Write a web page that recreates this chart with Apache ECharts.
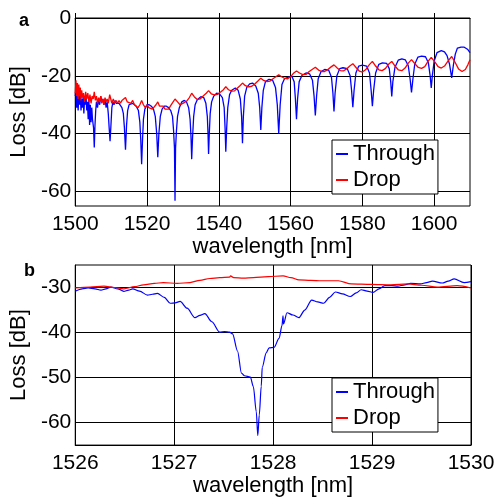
<!DOCTYPE html>
<html>
<head>
<meta charset="utf-8">
<script src="https://cdn.jsdelivr.net/npm/echarts@6/dist/echarts.min.js"></script>
<style>
html,body{margin:0;padding:0;background:#fff;}
#chart{width:499px;height:498px;}
</style>
</head>
<body>
<div id="chart"></div>
<script>
// ---- data (wavelength nm, loss dB) ----
const seriesNames = ['Through', 'Drop'];
const xTicksA = [1500, 1520, 1540, 1560, 1580, 1600];
const yTicksA = [0, -20, -40, -60];
const xTicksB = [1526, 1527, 1528, 1529, 1530];
const yTicksB = [-30, -40, -50, -60];

const throughA = [
[1500.0,-27],[1500.2,-24],[1500.4,-31],[1500.6,-26],[1500.8,-32],[1501.0,-27],[1501.2,-30],[1501.4,-26],[1501.6,-32],[1501.8,-28],
[1502.0,-31],[1502.2,-27],[1502.4,-33],[1502.6,-28],[1502.8,-30],[1503.0,-27],[1503.2,-32],[1503.4,-29],[1503.6,-35],[1503.8,-28],
[1504.0,-37],[1504.2,-30],[1504.4,-36],[1504.6,-31],[1504.8,-35],[1505.1,-38],[1505.3,-44.8],[1505.5,-37],[1505.7,-32],[1505.9,-29],
[1506.2,-31],[1506.5,-28],[1506.8,-30],[1507.1,-27],[1507.4,-29],[1507.7,-28],[1508.0,-30],[1508.3,-28],[1508.6,-31],[1508.9,-29],
[1509.2,-33],[1509.45,-38],[1509.7,-42.6],[1509.95,-37],[1510.2,-31],[1510.5,-29],[1510.8,-30],[1511.1,-28.5],[1511.4,-29.5],[1511.8,-29],
[1512.2,-29.5],[1512.6,-30],[1513.0,-31],[1513.4,-33],[1513.7,-38],[1514.0,-45.5],[1514.3,-37],[1514.6,-32],[1515.0,-30],[1515.5,-29.5],
[1516.0,-29.5],[1516.5,-30],[1517.0,-30.5],[1517.6,-32],[1518.0,-36],[1518.25,-42],[1518.5,-50.6],[1518.75,-42],[1519.0,-35],[1519.4,-31.5],
[1520.0,-30],[1520.6,-30],[1521.2,-30.5],[1521.8,-31.5],[1522.3,-34],[1522.7,-40],[1523.0,-48.1],[1523.3,-40],[1523.7,-34],[1524.2,-31.5],
[1524.8,-30.5],[1525.4,-30.5],[1526.0,-31],[1526.6,-32],[1527.1,-34],[1527.4,-39],[1527.65,-45],[1527.8,-63.2],[1527.95,-45],[1528.2,-39],
[1528.5,-34],[1529.0,-31],[1529.7,-29],[1530.4,-28.5],[1531.0,-29],[1531.6,-31],[1532.0,-35],[1532.25,-41],[1532.45,-48.8],[1532.7,-41],
[1533.0,-34],[1533.4,-30],[1534.0,-28.3],[1535.0,-27.2],[1535.8,-27.5],[1536.4,-29.5],[1536.8,-34],[1537.0,-40],[1537.15,-47],[1537.35,-40],
[1537.6,-33],[1538.0,-29],[1538.6,-27],[1539.4,-26],[1540.2,-26.2],[1541.0,-27.5],[1541.5,-31],[1541.75,-38],[1541.95,-46.2],[1542.2,-38],
[1542.5,-31],[1543.0,-26.5],[1543.6,-25],[1544.6,-24.2],[1545.4,-25],[1546.0,-28],[1546.35,-34],[1546.6,-43.3],[1546.85,-34],[1547.2,-27],
[1547.8,-24],[1548.6,-22.8],[1549.4,-22.5],[1550.3,-23.5],[1551.0,-26],[1551.4,-31],[1551.7,-38.7],[1552.0,-31],[1552.4,-25],[1553.0,-22],
[1554.0,-21.2],[1555.0,-21.5],[1555.8,-24],[1556.3,-30],[1556.7,-39.8],[1557.1,-30],[1557.6,-23],[1558.3,-21],[1559.2,-20.5],[1560.4,-20.2],
[1561.0,-22],[1561.35,-28],[1561.65,-35],[1561.95,-28],[1562.4,-22],[1563.2,-19.8],[1564.3,-19],[1565.3,-19.3],[1566.1,-21.5],[1566.55,-27],
[1566.9,-33.7],[1567.25,-27],[1567.7,-21],[1568.5,-18.5],[1569.5,-17.8],[1570.6,-18],[1571.4,-20.5],[1571.8,-26],[1572.1,-32.3],[1572.4,-26],
[1572.9,-20],[1573.7,-17.5],[1574.6,-17.2],[1575.8,-17.5],[1576.6,-20],[1577.0,-25],[1577.35,-30.8],[1577.7,-25],[1578.2,-19],[1579.0,-16.6],
[1580.0,-16.3],[1581.2,-16.6],[1582.0,-19],[1582.45,-25],[1582.8,-30.5],[1583.15,-25],[1583.7,-19],[1584.6,-16],[1585.6,-15.5],[1586.8,-15.7],
[1587.5,-17.5],[1587.9,-22],[1588.2,-27.1],[1588.5,-22],[1589.1,-17],[1590.0,-14.6],[1591.0,-14.1],[1592.0,-14.5],[1592.8,-16.5],[1593.3,-21],
[1593.7,-25.7],[1594.1,-21],[1594.6,-16],[1595.5,-13.5],[1596.5,-13.2],[1597.6,-13.4],[1598.4,-15.5],[1598.9,-20],[1599.2,-24.2],[1599.5,-20],
[1600.0,-15],[1600.8,-12],[1602.0,-11.3],[1602.9,-11.7],[1603.6,-13],[1604.3,-16],[1604.9,-20.7],[1605.4,-16],[1605.9,-12.5],[1606.5,-10.4],
[1607.5,-10.1],[1608.4,-10.1],[1609.3,-10.8],[1610.0,-12]
];

const dropA = [
[1500.0,-26],[1500.2,-21.5],[1500.4,-27],[1500.6,-22.5],[1500.8,-28],[1501.0,-23],[1501.2,-27],[1501.4,-24],[1501.6,-28.5],[1501.8,-25],
[1502.0,-27.5],[1502.3,-26],[1502.6,-29],[1502.9,-25.5],[1503.2,-28],[1503.5,-26],[1503.8,-29],[1504.1,-26.5],[1504.4,-29.5],[1504.7,-27],
[1505.0,-28],[1505.3,-25.5],[1505.6,-28.5],[1505.9,-27],[1506.2,-29.5],[1506.5,-27.5],[1506.8,-29],[1507.1,-27],[1507.4,-29.5],[1507.7,-28],
[1508.0,-30],[1508.3,-27.5],[1508.6,-29],[1508.9,-28],[1509.2,-29.5],[1509.6,-26.5],[1509.9,-28],[1510.2,-29.5],[1510.6,-28],[1511.0,-29.5],
[1511.4,-28.5],[1511.8,-29.5],[1512.2,-28.5],[1512.6,-29.5],[1513.0,-28.5],[1513.5,-29],[1514.0,-27.5],[1514.5,-29],[1515.0,-28.5],[1515.5,-29.5],
[1516.0,-28.5],[1516.5,-30],[1517.0,-29.5],[1517.5,-31],[1518.0,-30],[1518.5,-28.5],[1519.0,-30],[1519.5,-31],[1520.0,-30],[1520.5,-31],
[1521.0,-30.5],[1521.5,-31.5],[1522.0,-31],[1522.5,-30],[1523.0,-29],[1523.5,-30.5],[1524.0,-31],[1524.5,-30.5],[1525.0,-31.5],[1525.5,-31],
[1526.0,-31.5],[1526.5,-30.5],[1527.0,-29.5],[1527.8,-28],[1528.5,-29],[1529.2,-30],[1530.0,-29.5],[1531.0,-28.8],[1531.8,-27.5],[1532.45,-26],
[1533.2,-27.3],[1534.0,-28.2],[1534.8,-28],[1535.8,-26.8],[1536.5,-26],[1537.15,-25.1],[1537.9,-26.2],[1538.8,-26.6],[1539.6,-26.4],[1540.5,-25.6],
[1541.3,-24.8],[1541.95,-23.7],[1542.7,-24.8],[1543.6,-25.3],[1544.4,-25.2],[1545.2,-24.2],[1545.9,-23.4],[1546.6,-22.5],[1547.4,-23.4],[1548.3,-23.8],
[1549.2,-23.6],[1550.1,-22.7],[1550.9,-21.8],[1551.7,-20.8],[1552.5,-21.6],[1553.4,-22],[1554.3,-21.8],[1555.1,-21],[1555.9,-20.3],[1556.7,-19.6],
[1557.5,-20.3],[1558.4,-20.9],[1559.2,-21],[1560.1,-20.2],[1560.9,-19],[1561.65,-18.3],[1562.5,-19],[1563.4,-19.6],[1564.3,-19.5],[1565.1,-18.6],
[1566.0,-17.8],[1566.9,-17],[1567.8,-18],[1568.7,-18.5],[1569.5,-18.5],[1570.4,-17.8],[1571.3,-16.9],[1572.1,-16.2],[1573.0,-17.3],[1573.9,-18.2],
[1574.7,-18.3],[1575.6,-17.6],[1576.5,-16.6],[1577.35,-15.8],[1578.3,-17.2],[1579.2,-18.4],[1580.0,-18.7],[1580.9,-17.9],[1581.9,-16.2],[1582.8,-15],
[1583.7,-16.6],[1584.6,-17.9],[1585.5,-18.2],[1586.4,-17.5],[1587.3,-16],[1588.2,-15],[1589.1,-16.6],[1590.0,-17.9],[1591.0,-18.2],[1591.9,-17.3],
[1592.8,-15.6],[1593.7,-14.4],[1594.7,-15.9],[1595.6,-17.1],[1596.5,-17.4],[1597.4,-16.8],[1598.3,-15],[1599.2,-13.6],[1600.2,-15.2],[1601.1,-16.8],
[1602.0,-17.3],[1602.9,-16.6],[1603.9,-14.8],[1604.9,-13.3],[1605.8,-15.2],[1606.8,-17.6],[1607.8,-18.5],[1608.7,-17.8],[1609.4,-16.2],[1610.0,-14.4]
];

const throughB = [
[1526.0,-30.85],[1526.07,-30.3],[1526.13,-30.1],[1526.2,-30.3],[1526.26,-30.6],[1526.31,-30.3],[1526.36,-29.9],[1526.43,-30.3],[1526.49,-30.85],[1526.54,-30.6],
[1526.58,-30.3],[1526.65,-30.8],[1526.73,-31.7],[1526.78,-31.5],[1526.83,-31.3],[1526.9,-32.2],[1526.96,-33.5],[1527.01,-33.4],[1527.06,-33.1],[1527.13,-34.6],
[1527.21,-36.7],[1527.26,-36.2],[1527.31,-35.8],[1527.38,-37.6],[1527.46,-39.9],[1527.51,-39.8],[1527.56,-39.9],[1527.59,-40.3],[1527.64,-44.1],[1527.68,-49],
[1527.71,-49.6],[1527.77,-49.9],[1527.8,-52],[1527.83,-57.6],[1527.845,-62.9],[1527.86,-58.3],[1527.88,-51.9],[1527.89,-47.7],[1527.93,-44.5],[1527.96,-43.4],
[1528.01,-43.3],[1528.06,-41.3],[1528.09,-38.4],[1528.1,-36.3],[1528.105,-38.1],[1528.14,-35.6],[1528.2,-36.1],[1528.26,-36.7],[1528.32,-35],[1528.39,-32.8],
[1528.45,-33.2],[1528.51,-33.5],[1528.57,-32.2],[1528.63,-31],[1528.7,-31.4],[1528.78,-32],[1528.84,-31.2],[1528.89,-30.5],[1528.95,-30.8],[1529.01,-31.1],
[1529.07,-30.3],[1529.13,-29.6],[1529.2,-29.6],[1529.26,-29.7],[1529.33,-29.4],[1529.39,-29.1],[1529.49,-29.2],[1529.55,-28.9],[1529.61,-28.6],[1529.71,-29],
[1529.77,-28.6],[1529.83,-28.1],[1529.93,-28.9],[1530.0,-28.7]
];

const dropB = [
[1526.0,-30.1],[1526.15,-29.9],[1526.29,-29.7],[1526.4,-30.0],[1526.49,-30.3],[1526.6,-29.8],[1526.69,-29.4],[1526.8,-29.1],[1526.89,-28.9],[1527.03,-29.1],
[1527.16,-28.9],[1527.26,-28.4],[1527.36,-28.0],[1527.46,-27.8],[1527.56,-27.7],[1527.57,-27.4],[1527.6,-27.8],[1527.7,-27.9],[1527.8,-27.8],[1527.95,-27.6],
[1528.1,-27.4],[1528.18,-27.8],[1528.26,-28.3],[1528.38,-28.4],[1528.49,-28.5],[1528.66,-28.5],[1528.79,-29.2],[1528.99,-29.3],[1529.19,-29.4],[1529.36,-29.2],
[1529.5,-29.5],[1529.66,-29.9],[1529.86,-29.6],[1530.0,-30.1]
];

// ---- chart ----
const FONT = "'Liberation Sans', Arial, sans-serif";
const BLUE = '#0000ff', RED = '#ff0000';

function xAxis(gi, min, max, interval, ticks) {
  return {
    type: 'value', gridIndex: gi, min: min, max: max, interval: interval,
    name: 'wavelength [nm]', nameLocation: 'middle', nameGap: 15,
    nameTextStyle: {fontSize: 22, color: '#000', fontFamily: FONT},
    axisLine: {show: true, lineStyle: {color: '#000', width: 1}},
    axisTick: {show: true, inside: true, length: 5, customValues: ticks, lineStyle: {color: '#000'}},
    axisLabel: {customValues: ticks, fontSize: 21, color: '#000', fontFamily: FONT, margin: 8,
                formatter: function (v) { return String(v); }},
    splitLine: {show: true, lineStyle: {color: '#000', width: 1}}
  };
}
function yAxis(gi, min, max, ticks) {
  return {
    type: 'value', gridIndex: gi, min: min, max: max,
    name: 'Loss [dB]', nameLocation: 'middle', nameGap: 32,
    nameTextStyle: {fontSize: 22, color: '#000', fontFamily: FONT},
    axisLine: {show: true, lineStyle: {color: '#000', width: 1}},
    axisTick: {show: true, inside: true, length: 5, customValues: ticks, lineStyle: {color: '#000'}},
    axisLabel: {customValues: ticks, fontSize: 21, color: '#000', fontFamily: FONT, margin: 4,
                formatter: function (v) { return String(v); }},
    splitLine: {show: true, lineStyle: {color: '#000', width: 1}}
  };
}
function legend(left, top) {
  return {
    show: true, data: seriesNames, orient: 'vertical', left: left, top: top,
    backgroundColor: '#fff', borderColor: '#000', borderWidth: 1, borderRadius: 0,
    padding: [1, 3, 1, 4], itemGap: 0, itemWidth: 12, itemHeight: 2, icon: 'rect',
    selectedMode: false,
    textStyle: {fontSize: 22, color: '#000', fontFamily: FONT, lineHeight: 26}
  };
}
function line(name, data, color, xi, yi, w, smooth) {
  return {
    name: name, type: 'line', data: data, xAxisIndex: xi, yAxisIndex: yi,
    showSymbol: false, symbol: 'none', color: color, smooth: smooth || false,
    smoothMonotone: 'x',
    lineStyle: {color: color, width: w}, animation: false, z: 3
  };
}

const chart = echarts.init(document.getElementById('chart'), null, {renderer: 'canvas'});
chart.setOption({
  animation: false,
  backgroundColor: '#fff',
  textStyle: {fontFamily: FONT},
  grid: [
    {left: 70, top: 18, width: 400, height: 188, show: true, borderColor: '#000', borderWidth: 1, backgroundColor: 'transparent'},
    {left: 71, top: 265, width: 400, height: 187, show: true, borderColor: '#000', borderWidth: 1, backgroundColor: 'transparent'}
  ],
  xAxis: [xAxis(0, 1500, 1610, 20, xTicksA), xAxis(1, 1526, 1530, 1, xTicksB)],
  yAxis: [yAxis(0, -65, 0, yTicksA), yAxis(1, -65, -25, yTicksB)],
  legend: [legend(332, 140), legend(332, 378)],
  graphic: [
    {type: 'text', left: 19, top: 12, style: {text: 'a', font: "bold 18px 'Liberation Sans', Arial", fill: '#000'}},
    {type: 'text', left: 24, top: 262, style: {text: 'b', font: "bold 18px 'Liberation Sans', Arial", fill: '#000'}}
  ],
  series: [
    line(seriesNames[0], throughA, BLUE, 0, 0, 1.3),
    line(seriesNames[1], dropA, RED, 0, 0, 1.3),
    line(seriesNames[0], throughB, BLUE, 1, 1, 1.2, 0.3),
    line(seriesNames[1], dropB, RED, 1, 1, 1.2, 0.3)
  ]
});
</script>
</body>
</html>
